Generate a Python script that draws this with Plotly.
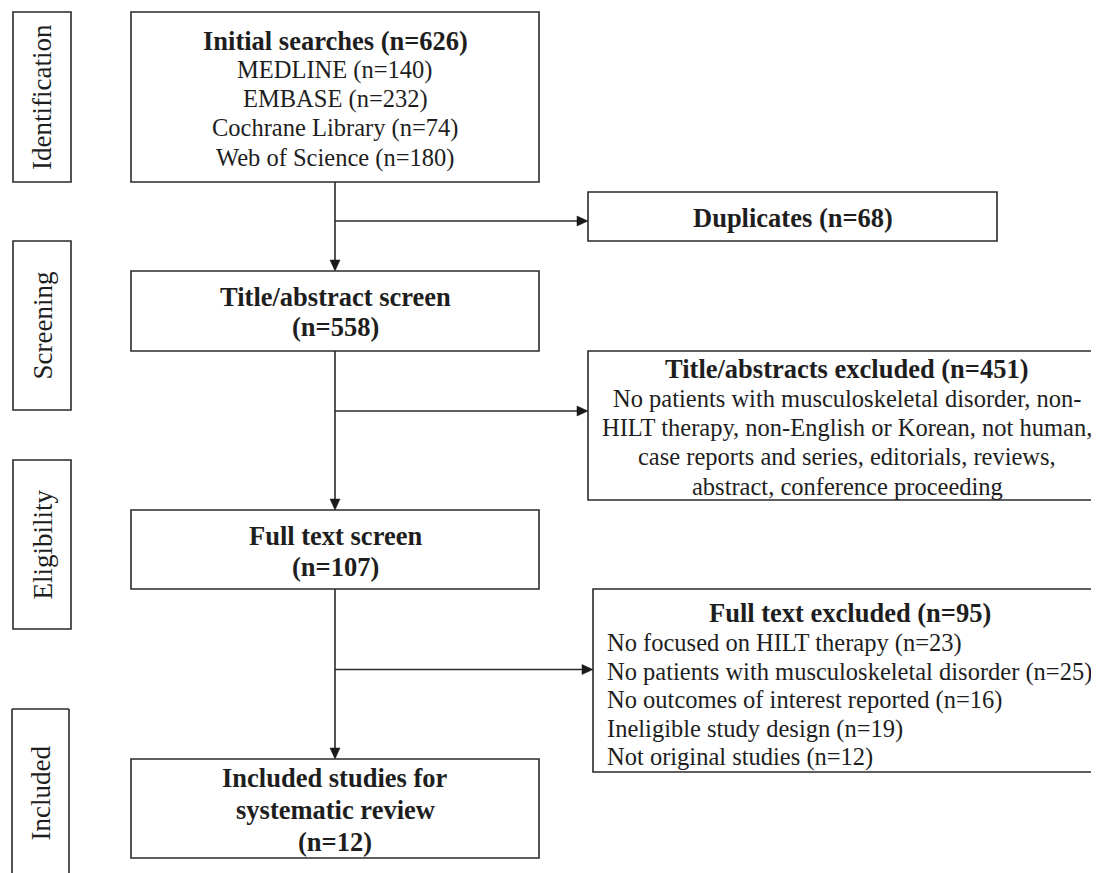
import plotly.graph_objects as go

# ---------------- data ----------------
stage_labels = ["Identification", "Screening", "Eligibility", "Included"]

initial_total = 626
databases = ["MEDLINE", "EMBASE", "Cochrane Library", "Web of Science"]
database_counts = [140, 232, 74, 180]

duplicates = 68
screened = 558
title_excluded = 451
title_excluded_reasons = [
    "No patients with musculoskeletal disorder, non-",
    "HILT therapy, non-English or Korean, not human,",
    "case reports and series, editorials, reviews,",
    "abstract, conference proceeding",
]
fulltext_screened = 107
fulltext_excluded = 95
fulltext_reasons = [
    "No focused on HILT therapy",
    "No patients with musculoskeletal disorder",
    "No outcomes of interest reported",
    "Ineligible study design",
    "Not original studies",
]
fulltext_reason_counts = [23, 25, 16, 19, 12]
included_studies = 12

# ---------------- layout geometry (page pixels) ----------------
W, H = 1099, 873
OFF = 8  # default page body margin
FONT = "Liberation Serif"
INK = "#1e1e1e"
FS = 24.5
FSB = 26.5
LS = 29.3

fig = go.Figure()
shapes = []
anns = []


def box(x0, y0, x1, y1):
    shapes.append(dict(type="rect", x0=x0, y0=y0, x1=x1, y1=y1,
                       line=dict(color="#2a2a2a", width=1.6),
                       fillcolor="rgba(0,0,0,0)", layer="above"))


def seg(x0, y0, x1, y1):
    shapes.append(dict(type="line", x0=x0, y0=y0, x1=x1, y1=y1,
                       line=dict(color="#2a2a2a", width=1.6), layer="above"))


def tri_down(x, yt):
    shapes.append(dict(type="path",
                       path=f"M {x-5},{yt-11} L {x+5},{yt-11} L {x},{yt} Z",
                       fillcolor="#1a1a1a", line=dict(color="#1a1a1a", width=0.5)))


def tri_right(xt, y):
    shapes.append(dict(type="path",
                       path=f"M {xt-11},{y-5} L {xt-11},{y+5} L {xt},{y} Z",
                       fillcolor="#1a1a1a", line=dict(color="#1a1a1a", width=0.5)))


def text(x, y, s, bold=False, anchor="center", size=None, angle=0):
    if size is None:
        size = FSB if bold else FS
    if bold:
        s = f"<b>{s}</b>"
    anns.append(dict(x=x, y=y, xref="x", yref="y", text=s, showarrow=False,
                     xanchor=anchor, yanchor="middle", textangle=angle,
                     font=dict(family=FONT, size=size, color=INK)))


def lines(x, y0, rows, bold_first=True, all_bold=False, anchor="center", step=LS):
    for i, r in enumerate(rows):
        b = all_bold or (bold_first and i == 0)
        text(x, y0 + i * step, r, bold=b, anchor=anchor)


# stage label boxes
label_boxes = [(13, 12, 71, 182), (13, 241, 71, 410), (13, 460, 71, 629)]
for (x0, y0, x1, y1), lab in zip(label_boxes, stage_labels[:3]):
    box(x0, y0, x1, y1)
    text((x0 + x1) / 2, (y0 + y1) / 2, lab, size=27, angle=-90)
# open-bottom "Included" box
seg(12, 709, 12, H + 20)
seg(12, 709, 69, 709)
seg(69, 709, 69, H + 20)
text(40.5, 793, stage_labels[3], size=27, angle=-90)

CX = 335
# main column boxes
box(131, 12, 539, 182)
lines(CX, 40.5, [f"Initial searches (n={initial_total})"] +
      [f"{d} (n={c})" for d, c in zip(databases, database_counts)])

box(131, 271, 539, 351)
lines(CX, 297, ["Title/abstract screen", f"(n={screened})"], all_bold=True, step=30)

box(131, 510, 539, 589)
lines(CX, 536, ["Full text screen", f"(n={fulltext_screened})"], all_bold=True, step=31)

box(131, 759, 539, 858)
lines(CX, 778, ["Included studies for", "systematic review", f"(n={included_studies})"],
      all_bold=True, step=32)

# side boxes
box(588, 192, 997, 241)
text(792.5, 218, f"Duplicates (n={duplicates})", bold=True)

box(588, 351, 1106, 500)
lines(847, 369, [f"Title/abstracts excluded (n={title_excluded})"] + title_excluded_reasons)

box(593, 589, 1106, 772)
text(849.5, 613, f"Full text excluded (n={fulltext_excluded})", bold=True)
lines(605, 643, [f"{r} (n={c})" for r, c in zip(fulltext_reasons, fulltext_reason_counts)],
      bold_first=False, anchor="left", step=28.6)

# connectors
seg(CX, 182, CX, 261)
tri_down(CX, 271)
seg(CX, 221, 578, 221)
tri_right(588, 221)

seg(CX, 351, CX, 500)
tri_down(CX, 510)
seg(CX, 411, 578, 411)
tri_right(588, 411)

seg(CX, 589, CX, 749)
tri_down(CX, 759)
seg(CX, 669.5, 583, 669.5)
tri_right(593, 669.5)

fig.update_layout(
    width=W - OFF, height=H - OFF,
    margin=dict(l=0, r=0, t=0, b=0),
    paper_bgcolor="white", plot_bgcolor="white",
    xaxis=dict(range=[OFF, W], visible=False, fixedrange=True),
    yaxis=dict(range=[H, OFF], visible=False, fixedrange=True),
    shapes=shapes, annotations=anns, showlegend=False,
)
fig.write_html("out.html")
